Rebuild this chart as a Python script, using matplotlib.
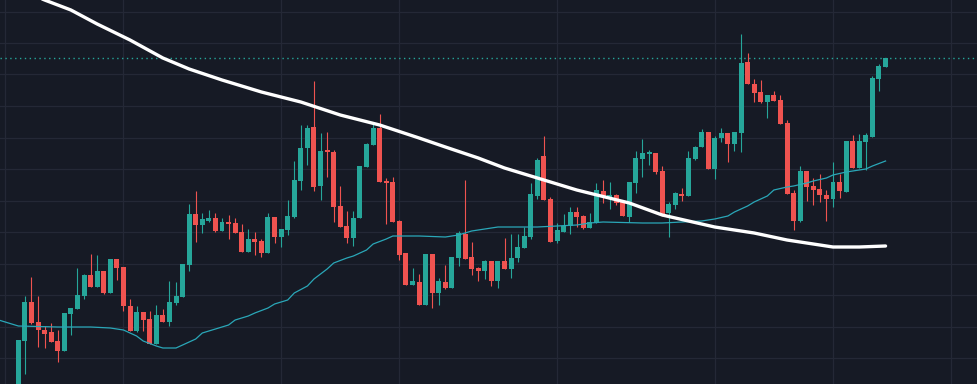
import matplotlib

matplotlib.use("Agg")
import matplotlib.pyplot as plt
import numpy as np
from matplotlib.ticker import FixedLocator, MultipleLocator

# OHLC, one value per candle (price units are arbitrary: the chart has no scale)
opens = [
    10.5, 15.9, 19.8, 17.8, 17.0, 16.8, 15.9, 14.9, 18.6, 19.1,
    20.4, 22.5, 21.3, 22.9, 20.7, 24.1, 23.3, 19.4, 16.9, 18.8,
    18.1, 15.6, 18.5, 17.8, 19.7, 20.3, 23.5, 28.6, 27.5, 27.9,
    28.2, 26.9, 27.8, 27.7, 26.8, 24.8, 26.1, 25.9, 24.7, 28.3,
    26.3, 27.0, 28.3, 31.9, 35.2, 37.3, 31.4, 35.0, 34.8, 29.4,
    27.4, 26.2, 28.2, 33.3, 35.5, 37.2, 31.9, 31.8, 27.9, 24.7,
    21.5, 21.8, 19.5, 24.6, 20.7, 21.8, 21.2, 24.2, 26.6, 24.3,
    23.2, 22.9, 23.9, 21.9, 23.9, 23.1, 24.2, 25.2, 26.3, 30.4,
    34.4, 30.1, 25.9, 26.8, 27.4, 28.8, 28.4, 27.2, 27.7, 30.9,
    30.3, 30.5, 29.8, 28.3, 31.7, 34.1, 34.6, 34.7, 32.9, 28.7,
    29.5, 30.6, 30.4, 34.1, 35.3, 36.8, 33.1, 36.2, 36.7, 35.6,
    36.7, 43.8, 41.6, 40.8, 39.8, 40.5, 40.0, 37.7, 30.7, 27.9,
    32.9, 31.4, 31.1, 30.5, 30.1, 31.8, 30.8, 35.9, 33.2, 35.8,
    36.3, 42.1, 43.3,
]
highs = [
    16.0, 20.4, 22.3, 20.4, 17.4, 17.7, 17.0, 18.7, 19.2, 23.2,
    22.6, 24.6, 24.5, 22.9, 24.1, 24.1, 23.3, 20.1, 19.4, 18.8,
    18.9, 19.5, 19.1, 21.9, 21.8, 23.6, 29.6, 30.9, 28.7, 29.0,
    28.7, 28.2, 28.5, 28.2, 27.6, 27.1, 26.8, 26.1, 28.7, 28.3,
    27.1, 30.0, 33.9, 37.5, 37.5, 41.9, 36.7, 36.8, 35.0, 31.4,
    28.9, 28.9, 33.4, 35.7, 37.8, 38.6, 32.2, 32.3, 28.0, 24.7,
    23.2, 22.6, 24.6, 24.6, 22.2, 23.5, 24.3, 26.9, 32.0, 25.8,
    23.3, 24.0, 23.9, 23.9, 26.2, 26.6, 26.6, 27.3, 31.7, 34.2,
    36.4, 30.3, 27.7, 28.6, 29.3, 29.3, 28.5, 28.7, 31.7, 32.0,
    31.8, 30.6, 29.8, 31.8, 34.9, 36.1, 35.0, 34.7, 33.4, 29.8,
    30.8, 31.2, 34.9, 35.4, 37.1, 36.8, 36.4, 37.2, 36.7, 36.8,
    46.6, 44.7, 42.1, 42.0, 40.5, 40.9, 40.5, 38.0, 31.0, 33.4,
    32.9, 32.2, 32.6, 31.0, 33.8, 32.6, 35.9, 36.5, 36.6, 36.7,
    42.4, 43.6, 44.2,
]
lows = [
    10.0, 12.6, 17.6, 15.3, 15.2, 15.8, 13.8, 14.9, 16.5, 19.1,
    20.1, 21.3, 21.3, 20.6, 20.7, 22.0, 18.9, 16.9, 16.8, 16.9,
    15.6, 15.6, 17.8, 17.4, 19.5, 20.3, 22.9, 25.8, 26.7, 27.8,
    26.8, 26.9, 26.1, 26.7, 24.8, 24.8, 24.5, 24.3, 24.7, 25.7,
    25.3, 26.5, 28.2, 31.0, 33.5, 30.9, 30.0, 32.3, 27.8, 27.3,
    25.7, 25.4, 28.2, 33.3, 35.5, 31.8, 27.6, 27.8, 24.0, 21.5,
    21.5, 19.5, 19.5, 19.2, 19.5, 21.1, 21.2, 23.4, 24.1, 22.5,
    21.9, 22.1, 21.4, 21.2, 23.1, 22.2, 23.8, 25.2, 26.1, 30.1,
    30.0, 25.8, 25.7, 26.8, 26.6, 27.3, 27.1, 27.2, 27.7, 29.7,
    29.1, 29.5, 28.4, 27.8, 30.7, 32.3, 33.5, 32.6, 28.4, 26.3,
    29.1, 29.9, 30.4, 34.0, 35.3, 33.1, 32.1, 35.8, 33.8, 34.9,
    34.8, 41.6, 39.8, 39.7, 38.2, 39.9, 37.6, 30.6, 27.0, 27.8,
    29.9, 29.5, 29.8, 27.9, 29.3, 30.2, 30.8, 33.2, 33.2, 33.0,
    36.3, 40.9, 43.3,
]
closes = [
    16.0, 19.8, 17.7, 17.0, 16.6, 15.8, 14.9, 18.7, 19.2, 20.5,
    22.5, 21.3, 22.9, 20.7, 24.1, 23.2, 19.4, 16.9, 18.8, 18.0,
    15.6, 18.5, 17.8, 19.8, 20.4, 23.6, 28.6, 27.5, 28.1, 28.2,
    26.9, 27.8, 27.6, 26.7, 24.8, 26.1, 25.8, 24.7, 28.3, 26.3,
    27.1, 28.4, 32.0, 35.2, 37.2, 31.3, 34.9, 34.8, 29.3, 27.3,
    26.2, 28.2, 33.4, 35.6, 37.2, 31.8, 31.7, 27.8, 24.5, 21.5,
    21.9, 19.5, 24.6, 20.7, 21.9, 21.2, 24.3, 26.7, 24.1, 23.1,
    22.9, 23.9, 21.9, 23.9, 23.1, 24.2, 25.3, 26.4, 30.6, 34.0,
    30.0, 25.8, 27.0, 27.4, 28.8, 28.3, 27.2, 27.8, 31.0, 30.3,
    30.5, 29.7, 28.4, 31.8, 34.2, 34.7, 34.8, 32.8, 28.4, 29.6,
    30.7, 30.4, 34.2, 35.3, 36.8, 33.1, 36.2, 36.7, 35.6, 36.8,
    43.7, 41.6, 40.7, 39.8, 40.5, 39.9, 37.6, 30.6, 27.9, 32.9,
    31.3, 31.0, 30.5, 30.1, 31.8, 30.9, 35.9, 33.2, 35.9, 36.5,
    42.2, 43.4, 44.2,
]

# fast moving average (teal), read at candle indices
ma_fast_idx = [-3, 0, 6, 11, 14, 16, 18, 19, 21, 22, 24, 25, 27, 28, 30, 32, 33,
               35, 36, 38, 39, 41, 42, 44, 45, 47, 48, 50, 51, 53, 54, 56, 57,
               61, 65, 67, 69, 71, 73, 79, 85, 87, 89, 95, 98, 101, 104, 106,
               108, 109, 111, 112, 114, 115, 117, 118, 120, 121, 123, 124, 126,
               127, 129, 130, 132]
ma_fast = [18.0, 17.4, 17.3, 17.3, 17.2, 17.0, 16.4, 15.9, 15.4, 15.2, 15.2, 15.5,
           16.1, 16.7, 17.1, 17.5, 18.0, 18.4, 18.7, 19.2, 19.6, 20.0, 20.7, 21.4,
           22.1, 23.1, 23.7, 24.2, 24.4, 25.0, 25.6, 26.1, 26.4, 26.4, 26.3, 26.5,
           26.9, 27.1, 27.3, 27.3, 27.5, 27.7, 27.8, 27.7, 27.7, 27.8, 27.9, 28.1,
           28.4, 28.8, 29.4, 29.8, 30.4, 31.0, 31.3, 31.4, 31.7, 31.9, 32.2, 32.5,
           32.8, 32.9, 33.1, 33.4, 33.9]

# slow moving average (white)
ma_slow_idx = [0, 4, 8, 12, 17, 22, 26, 31, 37, 43, 49, 55, 61, 65, 70, 74, 79,
               85, 93, 98, 106, 112, 117, 124, 128, 132]
ma_slow = [51.1, 50.0, 49.0, 47.6, 46.0, 44.2, 43.1, 42.0, 40.8, 39.8, 38.5, 37.5,
           36.2, 35.3, 34.2, 33.2, 32.2, 31.0, 29.7, 28.5, 27.3, 26.7, 26.0, 25.3,
           25.3, 25.4]

# candle indices where the date grid lines fall
date_grid = [-2, 16, 40, 58, 82, 106, 124, 142]

BG = "#161a25"
UP = "#26a69a"
DOWN = "#ef5350"

o = np.array(opens)
h = np.array(highs)
l = np.array(lows)
c = np.array(closes)
x = np.arange(len(c))
colors = np.where(c >= o, UP, DOWN)

fig = plt.figure(figsize=(9.78, 3.84), dpi=100, facecolor=BG)
ax = fig.add_axes([0, 0, 1, 1], facecolor=BG)

ax.vlines(x, l, h, colors=colors, lw=0.8, zorder=2)
body = np.maximum(np.abs(c - o), 0.12)
ax.bar(x, body, bottom=np.minimum(o, c), width=0.76, color=colors, lw=0, zorder=3)

ax.plot(ma_fast_idx, ma_fast, color="#2aa7b8", lw=0.9, zorder=4)
ax.plot(ma_slow_idx, ma_slow, color="white", lw=2.4, zorder=5,
        solid_capstyle="round", solid_joinstyle="round")

ax.axhline(c[-1], color=UP, lw=1.0, ls=(0, (1, 2.5)), zorder=1)

ax.set_xlim(-2.79, 146.07)
ax.set_ylim(11.6, 50.0)
ax.xaxis.set_major_locator(FixedLocator(date_grid))
ax.yaxis.set_major_locator(MultipleLocator(3.15, offset=1.6))
ax.grid(True, color="#242836", lw=0.9, zorder=0)
ax.set_axisbelow(True)
ax.tick_params(length=0, labelleft=False, labelbottom=False)
for s in ax.spines.values():
    s.set_visible(False)

fig.savefig("out.png", dpi=100, facecolor=BG)
